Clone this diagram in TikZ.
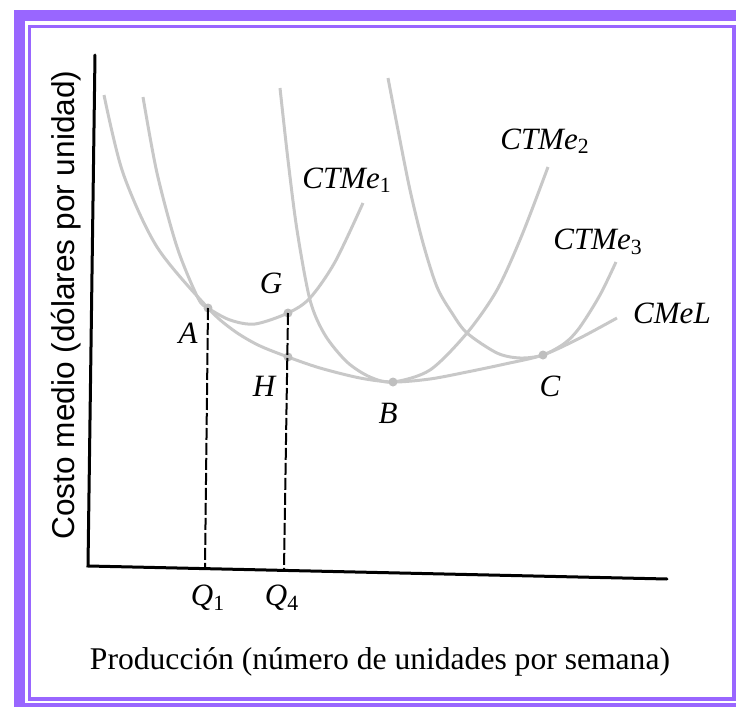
\documentclass[tikz,border=0pt]{standalone}
\usepackage{fontspec}
\setmainfont{Liberation Serif}
\setsansfont{Liberation Sans}
\definecolor{marco}{HTML}{9966FF}
\definecolor{gris}{HTML}{C8C8C8}
\tikzset{
  curva/.style={color=gris, line width=1.5pt},
  eje/.style={line width=1.5pt, line cap=round},
  guia/.style={line width=1pt, dash pattern=on 6pt off 1.5pt},
  punto/.style={circle, fill=gray!50, inner sep=0pt, minimum size=4.5pt},
  etiq/.style={font=\fontsize{15.5}{18}\selectfont\itshape, inner sep=0pt},
  titulo/.style={font=\fontsize{15.8}{18}\selectfont, inner sep=0pt},
}
\begin{document}
\begin{tikzpicture}[x=0.5pt, y=-0.5pt]
  \useasboundingbox (0,0) rectangle (736,707);
  \begin{scope}
    \clip (0,0) rectangle (736,707);
    \draw[marco, line width=5.5pt] (19.5,15.5) rectangle (745,708.5);
  \end{scope}
  \draw[marco, line width=1.75pt] (29.5,26.5) rectangle (734,699);
  % curvas de costo
  \draw[curva] plot[smooth] coordinates {(104,95) (123,173) (157,247) (208,308) (233,330) (258,345)
    (288,357) (320,368) (360,378) (393,382) (430,379) (467,372) (505,364) (543,355) (580,338) (617,318)};
  \draw[curva] plot[smooth] coordinates {(143,97) (157,173) (177,247) (198,298) (208,308) (230,320)
    (255,324) (288,313) (310,298) (335,262) (363,203)};
  \draw[curva] plot[smooth] coordinates {(280,88) (288,160) (297,230) (310,300) (325,335) (347,362)
    (370,377) (393,382) (430,370) (467,333) (497,290) (522,235) (548,167)};
  \draw[curva] plot[smooth] coordinates {(388,78) (398,130) (410,190) (423,243) (437,287) (452,313)
    (467,333) (497,353) (520,358) (543,355) (565,343) (580,327) (600,295) (616,262)};
  \node[punto] (A) at (208,308) {};
  \node[punto] (G) at (288,313) {};
  \node[punto] (H) at (288,357) {};
  \node[punto] (B) at (393,382) {};
  \node[punto] (C) at (543,355) {};
  % ejes
  \coordinate (ytop) at (95,55);
  \coordinate (O) at (88,566);
  \coordinate (xend) at (667,579);
  \coordinate (q1) at (205,568);
  \coordinate (q4) at (284,570);
  \draw[eje] (ytop) -- (O) -- (xend);
  \draw[guia] (A.center) -- (q1);
  \draw[guia] (G.center) -- (q4);
  \node[etiq] (lA) at (188,333) {A};
  \node[etiq] (lG) at (271,283) {G};
  \node[etiq] (lH) at (264,386) {H};
  \node[etiq] (lB) at (388,413) {B};
  \node[etiq] (lC) at (550,386) {C};
  \node[etiq] (lq1) at (208,598) {Q\textsubscript{\upshape 1}};
  \node[etiq] (lq4) at (282,598) {Q\textsubscript{\upshape 4}};
  \node[etiq] (c1) at (347,180) {CTMe\textsubscript{\upshape 1}};
  \node[etiq] (c2) at (545,141) {CTMe\textsubscript{\upshape 2}};
  \node[etiq] (c3) at (598,242) {CTMe\textsubscript{\upshape 3}};
  \node[etiq] (cl) at (672,313) {CMeL};
  \node[titulo] (tx) at (380,662) {Producción (número de unidades por semana)};
  \node[titulo, font=\fontsize{15.8}{18}\sffamily, rotate=90] (ty) at (66,305) {Costo medio (dólares por unidad)};
\end{tikzpicture}
\end{document}
